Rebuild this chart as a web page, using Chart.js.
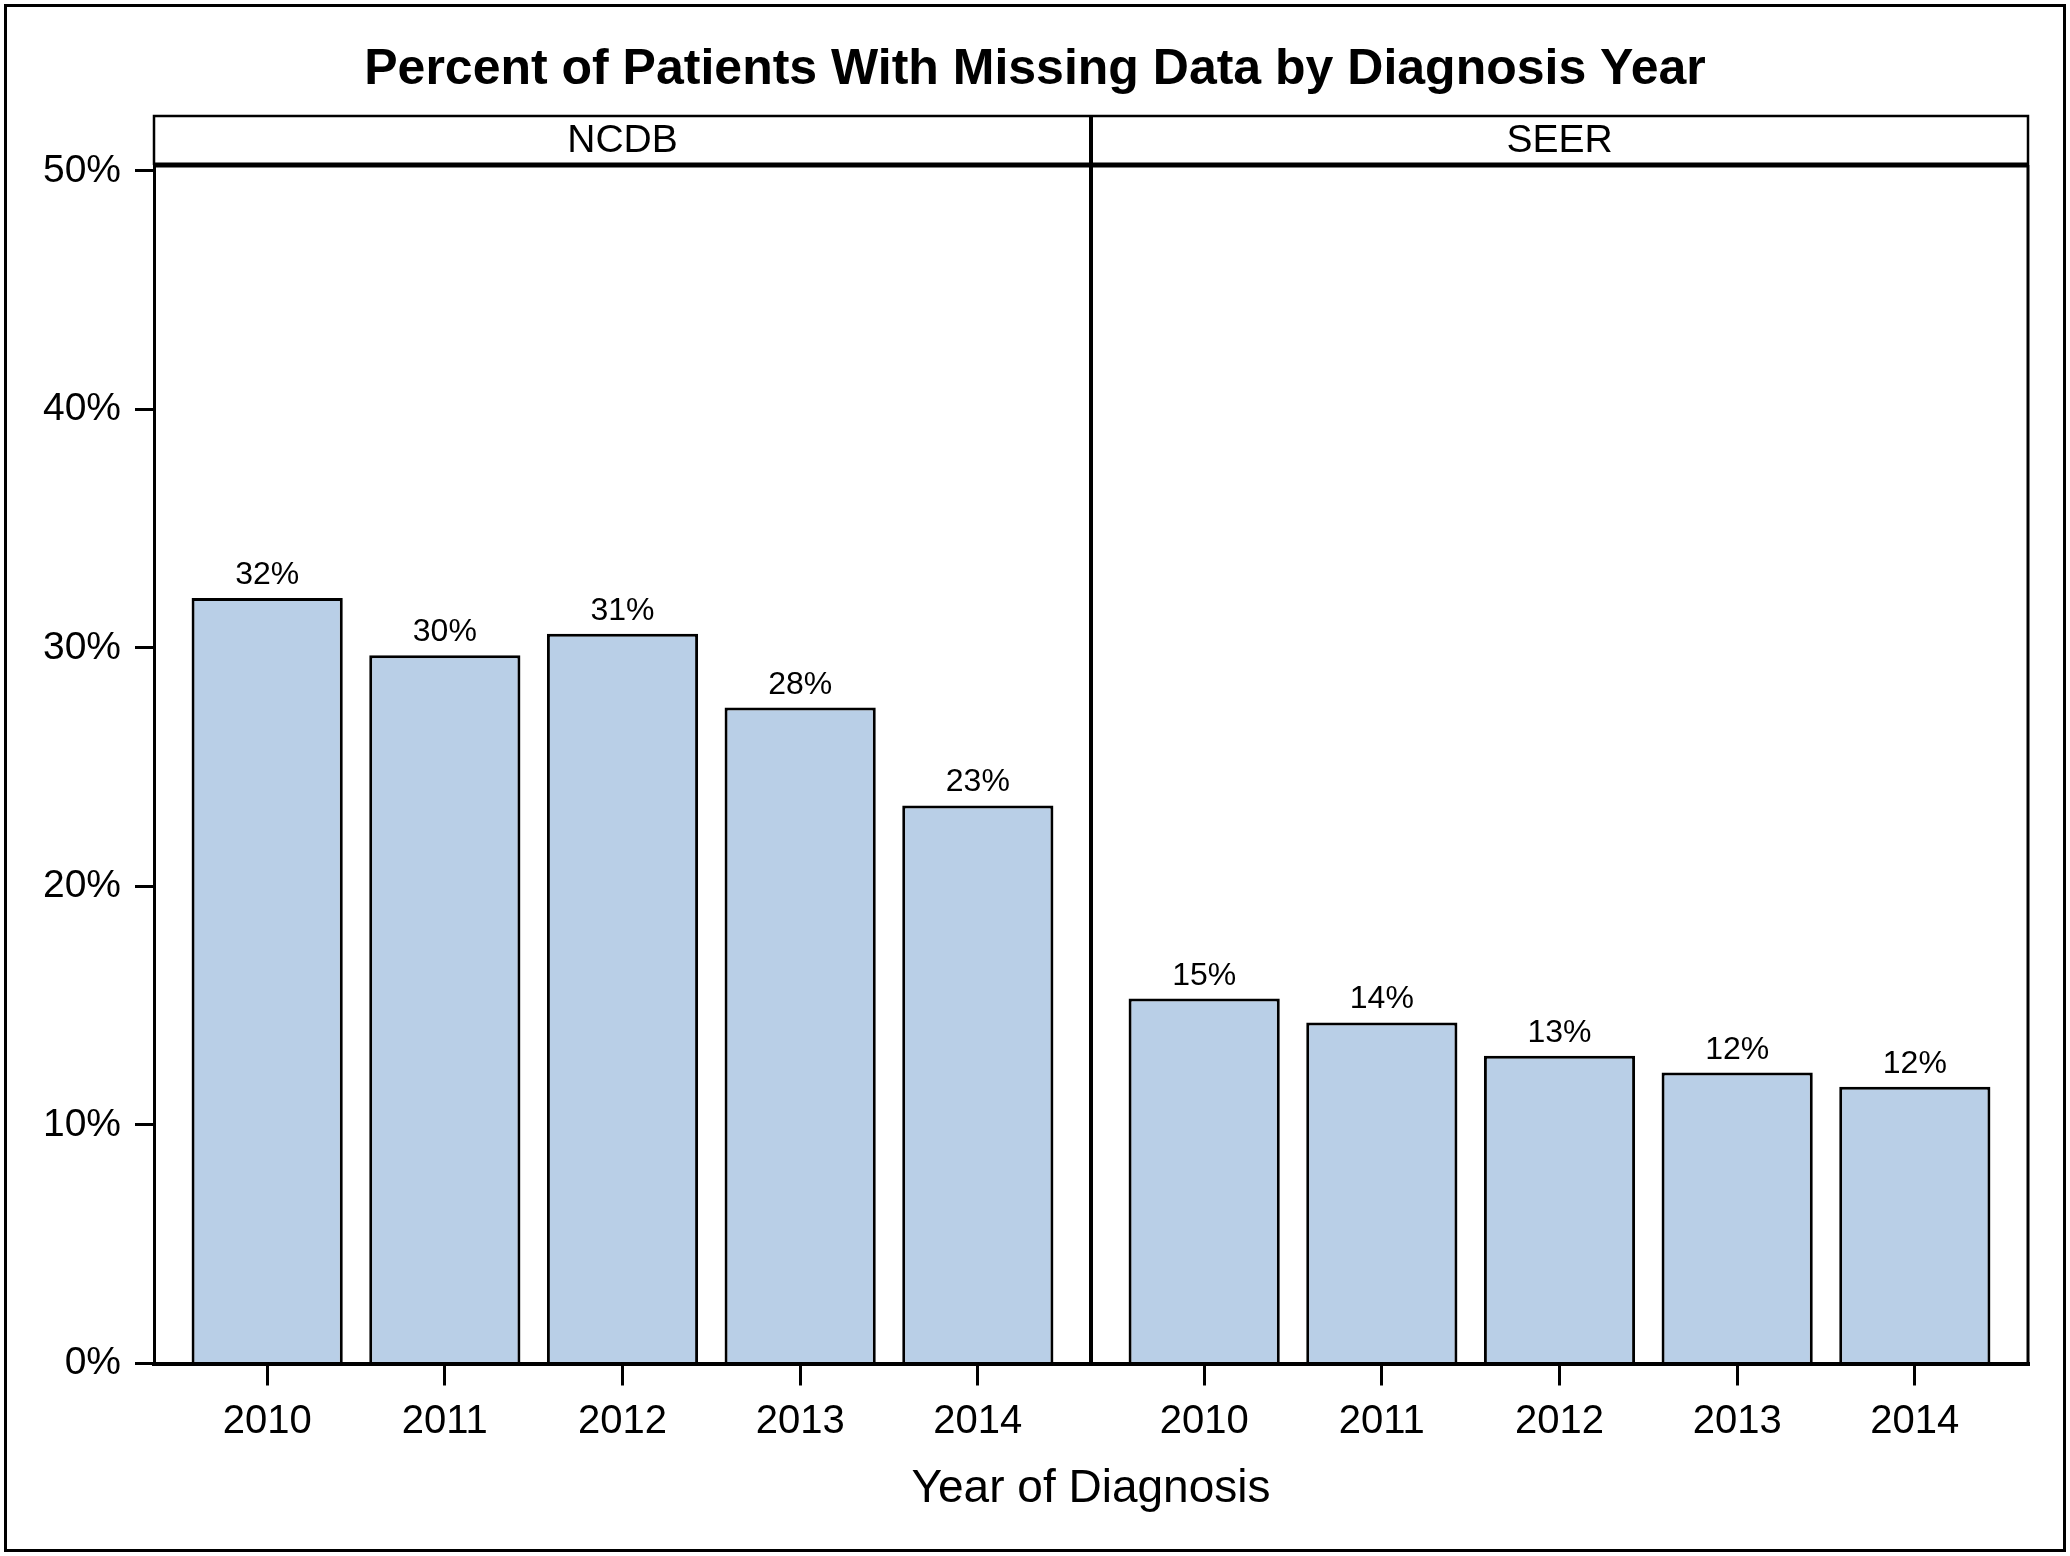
<!DOCTYPE html>
<html>
<head>
<meta charset="utf-8">
<title>Percent of Patients With Missing Data by Diagnosis Year</title>
<script src="https://cdn.jsdelivr.net/npm/chart.js@4.4.1/dist/chart.umd.min.js"></script>
<style>
  html, body { margin: 0; padding: 0; background: #fff; }
  #wrap { width: 2070px; height: 1556px; }
</style>
</head>
<body>
<div id="wrap"><canvas id="missingChart" width="2070" height="1556"></canvas></div>
<script>
const chartTitle = 'Percent of Patients With Missing Data by Diagnosis Year';
const axisTitle = 'Year of Diagnosis';
const panels = ['NCDB', 'SEER'];
const years = ['2010', '2011', '2012', '2013', '2014'];
const ncdbValues = [32.1, 29.7, 30.6, 27.5, 23.4];
const seerValues = [15.3, 14.3, 12.9, 12.2, 11.6];
const yTicks = [0, 10, 20, 30, 40, 50];

const FONT = '"Liberation Sans", Arial, Helvetica, sans-serif';
const BAR_FILL = '#B9CFE7';
// white space at each panel edge, in category units
const PANEL_PAD = 0.637;
const panelSpan = years.length - 1 + 2 * PANEL_PAD;

// frame, title, panel headers and divider
const panelFrame = {
  id: 'panelFrame',
  afterDraw(chart) {
    const { ctx, chartArea } = chart;
    const x = chart.scales.x;
    const headerTop = 116;
    const divX = x.getPixelForValue(panelSpan - PANEL_PAD);
    ctx.save();
    ctx.strokeStyle = '#000';
    ctx.fillStyle = '#000';

    // outer frame
    ctx.lineWidth = 3;
    ctx.strokeRect(5.5, 5.5, chart.width - 11, chart.height - 11);

    // title
    ctx.font = 'bold 50px ' + FONT;
    ctx.textAlign = 'center';
    ctx.textBaseline = 'middle';
    ctx.fillText(chartTitle, chart.width / 2, 70);

    // header strip
    ctx.lineWidth = 2.5;
    ctx.beginPath();
    ctx.moveTo(chartArea.left, chartArea.top);
    ctx.lineTo(chartArea.left, headerTop);
    ctx.lineTo(chartArea.right, headerTop);
    ctx.lineTo(chartArea.right, chartArea.top);
    ctx.stroke();

    ctx.lineWidth = 5;
    ctx.beginPath();
    ctx.moveTo(chartArea.left - 1, chartArea.top);
    ctx.lineTo(chartArea.right + 1, chartArea.top);
    ctx.stroke();

    // right border and divider
    ctx.lineWidth = 3;
    ctx.beginPath();
    ctx.moveTo(chartArea.right, chartArea.top);
    ctx.lineTo(chartArea.right, chartArea.bottom);
    ctx.stroke();
    ctx.lineWidth = 4;
    ctx.beginPath();
    ctx.moveTo(divX, headerTop);
    ctx.lineTo(divX, chartArea.bottom);
    ctx.stroke();

    ctx.font = '39px ' + FONT;
    const midY = (headerTop + chartArea.top) / 2 + 1;
    ctx.fillText(panels[0], (chartArea.left + divX) / 2, midY);
    ctx.fillText(panels[1], (divX + chartArea.right) / 2, midY);
    ctx.restore();
  }
};

// value labels over the bars
const barLabels = {
  id: 'barLabels',
  afterDatasetsDraw(chart) {
    const { ctx } = chart;
    ctx.save();
    ctx.font = '32px ' + FONT;
    ctx.fillStyle = '#000';
    ctx.textAlign = 'center';
    ctx.textBaseline = 'alphabetic';
    chart.data.datasets.forEach((ds, d) => {
      chart.getDatasetMeta(d).data.forEach((bar, i) => {
        ctx.fillText(Math.round(ds.data[i].y) + '%', bar.x, bar.y - 14);
      });
    });
    ctx.restore();
  }
};

new Chart(document.getElementById('missingChart'), {
  type: 'bar',
  data: {
    datasets: [
      {
        label: panels[0],
        data: ncdbValues.map((v, i) => ({ x: i, y: v })),
        backgroundColor: BAR_FILL,
        borderColor: '#000',
        borderWidth: 3
      },
      {
        label: panels[1],
        data: seerValues.map((v, i) => ({ x: i + panelSpan, y: v })),
        backgroundColor: BAR_FILL,
        borderColor: '#000',
        borderWidth: 3
      }
    ]
  },
  options: {
    responsive: false,
    animation: false,
    layout: { padding: { top: 165, right: 42, left: 0, bottom: 0 } },
    datasets: {
      bar: { grouped: false, categoryPercentage: 1, barPercentage: 0.851 }
    },
    plugins: {
      legend: { display: false },
      tooltip: { enabled: false }
    },
    scales: {
      x: {
        type: 'linear',
        offset: false,
        min: -PANEL_PAD,
        max: 2 * panelSpan - PANEL_PAD,
        afterBuildTicks: (s) => {
          s.ticks = [];
          panels.forEach((p, k) => {
            years.forEach((y, i) => s.ticks.push({ value: i + k * panelSpan }));
          });
        },
        afterFit: (s) => { s.height = 192.5; },
        ticks: {
          callback: (v, i) => years[i % years.length],
          font: { family: FONT, size: 40 },
          color: '#000',
          padding: 12,
          maxRotation: 0,
          autoSkip: false
        },
        grid: { offset: false, drawOnChartArea: false, color: '#000', lineWidth: 3, tickLength: 22 },
        border: { color: '#000', width: 4 },
        title: {
          display: true,
          text: axisTitle,
          font: { family: FONT, size: 46 },
          color: '#000',
          padding: { top: 0, bottom: 39 }
        }
      },
      y: {
        min: 0,
        max: 50.25,
        afterBuildTicks: (s) => { s.ticks = yTicks.map(v => ({ value: v })); },
        afterFit: (s) => { s.width = 154; },
        ticks: {
          callback: (v) => v + '%',
          font: { family: FONT, size: 39 },
          color: '#000',
          padding: 14
        },
        grid: { drawOnChartArea: false, color: '#000', lineWidth: 3, tickLength: 19 },
        border: { color: '#000', width: 3 }
      }
    }
  },
  plugins: [barLabels, panelFrame]
});
</script>
</body>
</html>
